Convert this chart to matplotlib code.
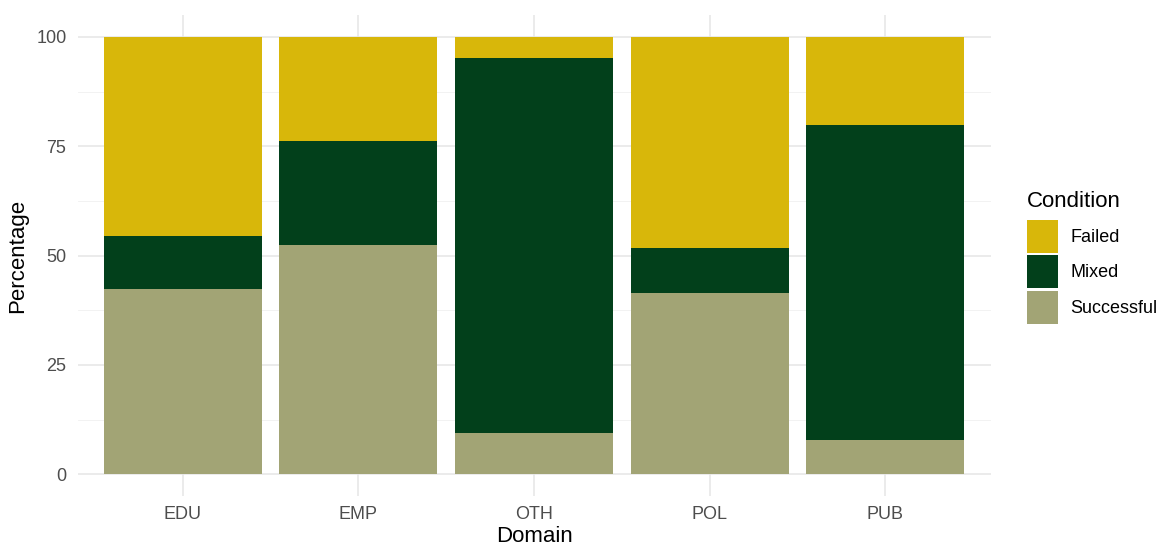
import matplotlib
matplotlib.use("Agg")
import matplotlib.pyplot as plt
from matplotlib.patches import Patch
import numpy as np

domains = ["EDU", "EMP", "OTH", "POL", "PUB"]
successful = [42.3, 52.3, 9.4, 41.4, 7.9]
mixed = [12.2, 23.9, 85.8, 10.3, 72.0]
failed = [45.5, 23.8, 4.8, 48.3, 20.1]
conditions = ["Failed", "Mixed", "Successful"]
colors = {"Failed": "#D8B70A", "Mixed": "#02401B", "Successful": "#A2A475"}

plt.rcParams['font.family'] = ['Liberation Sans', 'DejaVu Sans']

fig = plt.figure(figsize=(11.66, 5.52), dpi=100)
ax = fig.add_axes([0.0665, 0.1014, 0.783, 0.8714])

x = np.arange(1, len(domains) + 1)
w = 0.9
ax.bar(x, successful, width=w, color=colors["Successful"], zorder=3)
ax.bar(x, mixed, width=w, bottom=successful, color=colors["Mixed"], zorder=3)
bottom2 = np.array(successful) + np.array(mixed)
ax.bar(x, failed, width=w, bottom=bottom2, color=colors["Failed"], zorder=3)

ax.set_xlim(0.4, 5.6)
ax.set_ylim(-5, 105)
ax.set_yticks([0, 25, 50, 75, 100])
ax.set_yticks([12.5, 37.5, 62.5, 87.5], minor=True)
ax.set_xticks(x)
ax.set_xticklabels(domains)
ax.grid(True, which='major', color='#E5E5E5', linewidth=1.1, zorder=0)
ax.grid(True, which='minor', axis='y', color='#F0F0F0', linewidth=0.6, zorder=0)
for s in ax.spines.values():
    s.set_visible(False)
ax.tick_params(axis='both', which='both', length=0, labelsize=13, labelcolor='#4D4D4D')
ax.tick_params(axis='y', pad=8)
ax.tick_params(axis='x', pad=7)
ax.set_xlabel("Domain", fontsize=16, color='black', labelpad=2)
ax.set_ylabel("Percentage", fontsize=16, color='black', labelpad=6)

handles = [Patch(facecolor=colors[c], edgecolor='none', label=c) for c in conditions]
leg = fig.legend(handles=handles, title="Condition", loc='upper left',
                 bbox_to_anchor=(0.8742, 0.667), frameon=False, fontsize=13,
                 title_fontsize=16, handlelength=1.72, handleheight=2.43,
                 labelspacing=0.12, handletextpad=0.72, borderaxespad=0)
leg._legend_box.align = "left"
leg._legend_box.sep = 6

fig.savefig("out.png", dpi=100)
